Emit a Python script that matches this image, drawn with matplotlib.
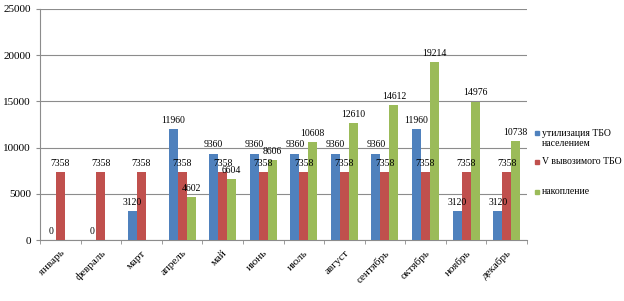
import matplotlib
matplotlib.use("Agg")
import matplotlib.pyplot as plt
from matplotlib.patches import Rectangle
import numpy as np

months = ["январь", "февраль", "март", "апрель", "май", "июнь", "июль",
          "август", "сентябрь", "октябрь", "ноябрь", "декабрь"]
util = [0, 0, 3120, 11960, 9360, 9360, 9360, 9360, 9360, 11960, 3120, 3120]
vyvoz = [7358] * 12
nakop = [np.nan, np.nan, np.nan, 4602, 6604, 8606, 10608, 12610, 14612, 19214, 14976, 10738]
series_names = ["утилизация ТБО\nнаселением", "V вывозимого ТБО", "накопление"]
colors = ["#4F81BD", "#C0504D", "#9BBB59"]

plt.rcParams['font.family'] = ['Liberation Serif', 'DejaVu Serif']

W, H = 624, 301
fig = plt.figure(figsize=(W/100, H/100), dpi=100)
ax = fig.add_axes([40/W, 1 - 240/H, (527-40)/W, (240-9)/H])

x = np.arange(len(months))
w = 0.222
for i, (vals, c) in enumerate(zip([util, vyvoz, nakop], colors)):
    pos = x + (i - 1) * w
    ax.bar(pos, vals, width=w, color=c, zorder=3)
    for p, v in zip(pos, vals):
        if not np.isnan(v):
            ax.text(p, v + 450, f"{int(v)}", ha="center", va="bottom", fontsize=7, zorder=4)

ax.set_xlim(-0.5, 11.5)
ax.set_ylim(0, 25000)
ax.set_yticks(range(0, 25001, 5000))
ax.yaxis.grid(True, color="#8c8c8c", linewidth=0.8, zorder=0)
ax.set_xticks(np.arange(-0.5, 12, 1), minor=True)
ax.set_xticks(x)
ax.set_xticklabels(months, rotation=45, ha="right", rotation_mode="anchor", fontsize=8)
ax.tick_params(axis="x", which="major", length=0, pad=6)
ax.tick_params(axis="x", which="minor", length=3, color="#8c8c8c")
ax.tick_params(axis="y", length=3, color="#8c8c8c", labelsize=8)
for s in ["top", "right"]:
    ax.spines[s].set_visible(False)
for s in ["left", "bottom"]:
    ax.spines[s].set_color("#8c8c8c")

# legend (Excel style: marker aligned with first line)
leg_y = [133, 162, 192]
for name, c, yy in zip(series_names, colors, leg_y):
    fig.patches.append(Rectangle((534.5/W, 1 - (yy + 2)/H), 4/W, 4/H,
                                 transform=fig.transFigure, color=c, figure=fig))
    for k, ln in enumerate(name.split("\n")):
        fig.text(541.5/W, 1 - (yy + 11*k)/H, ln, ha="left", va="center", fontsize=7.0)

fig.savefig("out.png", dpi=100)
